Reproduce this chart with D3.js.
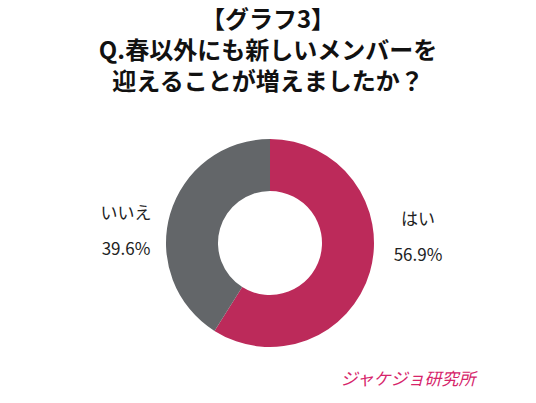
<!DOCTYPE html>
<html><head><meta charset="utf-8">
<script src="https://cdn.jsdelivr.net/npm/d3@7"></script>
<style>body{margin:0;background:#fff}</style>
</head><body>
<svg id="chart" width="536" height="403"></svg>
<script>
const labels = ["はい", "いいえ"];
const values = [56.9, 39.6];
const colors = ["#bc2a5a", "#636669"];
const titleLines = ["【グラフ3】", "Q.春以外にも新しいメンバーを", "迎えることが増えましたか？"];

const svg = d3.select("#chart");
const font = "'Noto Sans CJK JP', 'Noto Sans', sans-serif";

svg.selectAll("text.title").data(titleLines).enter().append("text")
    .attr("class", "title")
    .attr("x", 268).attr("y", (d, i) => 28 + i * 31)
    .attr("text-anchor", "middle")
    .attr("font-family", font).attr("font-weight", "bold").attr("font-size", 24)
    .attr("fill", "#111").text(d => d);

const cx = 270, cy = 243;
const pie = d3.pie().sort(null).value(d => d);
const arc = d3.arc().innerRadius(52).outerRadius(104);
const g = svg.append("g").attr("transform", `translate(${cx},${cy})`);
g.selectAll("path").data(pie(values)).enter().append("path")
    .attr("d", arc).attr("fill", (d, i) => colors[i]);

const labelPos = [[418, 225], [126, 219]];
labels.forEach((l, i) => {
    const t = svg.append("text").attr("x", labelPos[i][0]).attr("text-anchor", "middle")
        .attr("font-family", font).attr("font-size", 17).attr("fill", "#222");
    t.append("tspan").attr("x", labelPos[i][0]).attr("y", labelPos[i][1]).text(l);
    t.append("tspan").attr("x", labelPos[i][0]).attr("y", labelPos[i][1] + 36).text(values[i] + "%");
});

svg.append("text").attr("x", 408).attr("y", 385).attr("text-anchor", "middle")
    .attr("font-family", font).attr("font-size", 17).attr("font-style", "italic")
    .attr("fill", "#d6246a").text("ジャケジョ研究所");
</script>
</body></html>
